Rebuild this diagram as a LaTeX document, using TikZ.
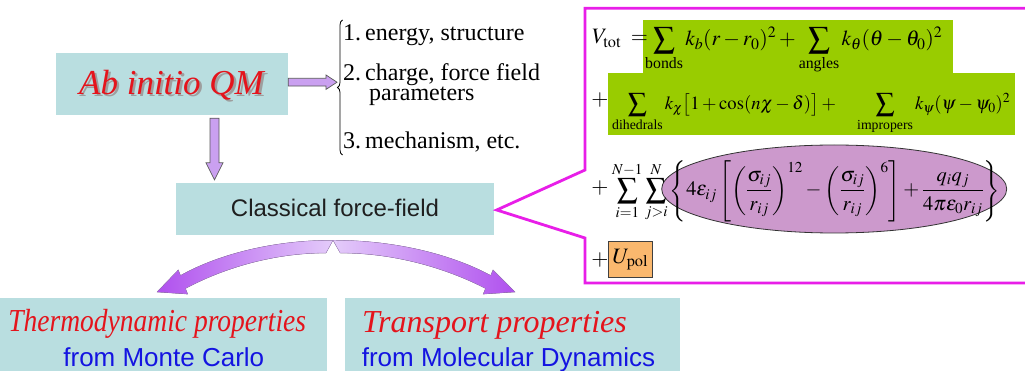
\documentclass[tikz,border=0pt]{standalone}
\usepackage{amsmath}
\usepackage{mathptmx}
\usepackage[no-math]{fontspec}
\setmainfont{Liberation Serif}
\newfontfamily\arialf{Liberation Sans}
\usetikzlibrary{calc,decorations.pathreplacing,shapes.geometric}
\definecolor{tealc}{RGB}{185,222,224}
\definecolor{redc}{RGB}{228,20,28}
\definecolor{bluec}{RGB}{20,20,225}
\definecolor{lavc}{RGB}{202,160,240}
\definecolor{lavdark}{RGB}{176,80,238}
\definecolor{lavlight}{RGB}{228,204,250}
\definecolor{magc}{RGB}{232,30,232}
\definecolor{greenc}{RGB}{153,204,0}
\definecolor{purplec}{RGB}{204,153,204}
\definecolor{orangec}{RGB}{250,184,110}
\newcommand{\mfs}{\fontsize{22}{26}\selectfont}
\begin{document}
\begin{tikzpicture}[x=1pt,y=-1pt,
  tealbox/.style={fill=tealc, draw=none, inner sep=0pt},
  lavarrow/.style={fill=lavc, draw=black!65, line width=0.7pt},
  listtext/.style={anchor=base west, inner sep=0pt, font=\fontsize{24}{27}\selectfont},
  bigred/.style={anchor=base, inner sep=0pt, text=redc, font=\fontsize{32}{36}\selectfont\itshape},
  bluesub/.style={anchor=base, inner sep=0pt, text=bluec, font=\arialf\fontsize{26}{30}\selectfont},
  greenbox/.style={fill=greenc, draw=none, inner sep=0pt},
  mathnode/.style={anchor=base west, inner sep=0pt},
  plusnode/.style={inner sep=0pt, font=\mfs}
]
\useasboundingbox (0,0) rectangle (1025,371);
\clip (0,0) rectangle (1025,371);
\fill[white] (0,0) rectangle (1025,371);

% --- Ab initio QM ---
\node[tealbox, minimum width=232.5pt, minimum height=61.7pt] (ab) at (171.75,84.15) {};
\node[anchor=base, inner sep=0pt, text=black!38, font=\fontsize{35}{40}\selectfont\itshape] (abshadow) at (173.8,96.6) {Ab initio QM};
\node[anchor=base, inner sep=0pt, text=redc, font=\fontsize{35}{40}\selectfont\itshape] (abtext) at (171.5,94.3) {Ab initio QM};

% --- list with brace ---
\coordinate (brtop) at (342.5,20);
\coordinate (brbot) at (342.5,155);
\draw[decorate, decoration={brace, amplitude=5pt}, line width=0.8pt] (brbot) -- (brtop);
\coordinate (brtip) at (337,82.2);
\node[listtext] (l1) at (343,40.5) {1.\,energy, structure};
\node[listtext] (l2) at (343,80.8) {2.\,charge, force field};
\node[listtext] (l2b) at (369,100.5) {parameters};
\node[listtext] (l3) at (343,148.5) {3.\,mechanism, etc.};

% right block arrow
\coordinate (rs) at ($(ab.east)+(0,-1.95)$);
\draw[lavarrow] ($(rs)+(0,-3.9)$) -- ($(brtip)+(-11,-3.9)$) -- ($(brtip)+(-11,-7.2)$) -- (brtip)
  -- ($(brtip)+(-11,7.2)$) -- ($(brtip)+(-11,3.9)$) -- ($(rs)+(0,3.9)$) -- cycle;

% --- Classical force-field ---
\node[tealbox, minimum width=318.4pt, minimum height=51.7pt] (cff) at (334.8,209.2) {};
\node[anchor=base, inner sep=0pt, text=black!88, font=\arialf\fontsize{24}{28}\selectfont] (cfftext) at (335,217) {Classical force-field};

% down block arrow
\coordinate (ds) at ($(ab.south)+(42.75,3)$);
\coordinate (dt) at ($(cff.north)+(-120.3,-3.3)$);
\draw[lavarrow] ($(ds)+(-4.5,0)$) -- ($(dt)+(-4.5,-17)$) -- ($(dt)+(-8.5,-17)$) -- (dt)
  -- ($(dt)+(8.5,-17)$) -- ($(dt)+(4.5,-17)$) -- ($(ds)+(4.5,0)$) -- cycle;

% --- bottom boxes ---
\node[tealbox, minimum width=327pt, minimum height=80pt, anchor=north west] (thermo) at (0,298) {};
\node[tealbox, minimum width=335pt, minimum height=80pt, anchor=north west] (trans) at (345,298) {};
\node[bigred] (thermot) at (157.2,331.7) {\scalebox{0.86}[1]{Thermodynamic properties}};
\node[bluesub] (thermob) at (163.8,366.5) {from Monte Carlo};
\node[bigred] (transt) at (494.5,332) {Transport properties};
\node[bluesub] (transb) at (508.5,366.5) {from Molecular Dynamics};

% curved arrows
\coordinate (apex) at ($(cff.south)+(-1.8,5)$);
\fill[left color=lavdark, right color=lavlight, draw=lavc!80!black, line width=0.3pt]
  (apex) .. controls (270,240) and (215,256) .. (180.5,275.5)
  -- (178.3,269.9) -- (157,292) -- (187.7,294.1) -- (185.5,288.5)
  .. controls (220,270) and (270,253) .. (326,253) -- cycle;
\fill[left color=lavlight, right color=lavdark, draw=lavc!80!black, line width=0.3pt]
  (apex) .. controls (398.1,240) and (455,256) .. (490.7,275.5)
  -- (493,269.9) -- (515,292) -- (483.2,294.1) -- (485.5,288.5)
  .. controls (449.8,270) and (398.1,253) .. (340.2,253) -- cycle;

% --- formula panel ---
\node[greenbox, minimum width=309.4pt, minimum height=52.7pt] (g1) at (798,46.35) {};
\node[greenbox, minimum width=407pt, minimum height=62.3pt] (g2) at (811.5,103.85) {};
\node[ellipse, fill=purplec, draw=black!80, line width=0.8pt, minimum width=345pt, minimum height=88pt, inner sep=0pt] (ell) at (834.2,189) {};
\node[fill=orangec, draw=black!75, line width=0.7pt, minimum width=44.7pt, minimum height=35.6pt, inner sep=0pt, font=\mfs] (upol) at (630.35,259.5) {$U_{\mathrm{pol}}$};

\node[mathnode, font=\mfs] (vtot) at (592,44) {$V_{\mathrm{tot}}\;=$};
\node[mathnode] (r1) at (645,46) {\resizebox{297pt}{!}{\mfs$\displaystyle\sum_{\text{bonds}}k_b(r-r_0)^2+\sum_{\text{angles}}k_\theta(\theta-\theta_0)^2$}};
\node[plusnode] (p2) at (600,100) {$+$};
\node[mathnode] (r2) at (612,110) {\resizebox{398pt}{!}{\mfs$\displaystyle\sum_{\text{dihedrals}}k_\chi\bigl[1+\cos(n\chi-\delta)\bigr]+\quad\sum_{\text{impropers}}k_\psi(\psi-\psi_0)^2$}};
\node[plusnode] (p3) at (600,188) {$+$};
\node[mathnode] (r3) at (612,196) {\resizebox{388pt}{!}{\mfs$\displaystyle\sum_{i=1}^{N-1}\sum_{j>i}^{N}\left\{4\varepsilon_{ij}\left[\left(\frac{\sigma_{ij}}{r_{ij}}\right)^{12}-\left(\frac{\sigma_{ij}}{r_{ij}}\right)^{6}\right]+\frac{q_iq_j}{4\pi\varepsilon_0r_{ij}}\right\}$}};
\node[plusnode] (p4) at (600,260) {$+$};

% magenta callout
\coordinate (call) at ($(cff.east)+(2.5,0.8)$);
\draw[magc, line width=2.8pt, line join=miter]
  (1035,8.3) -- (585,8.3) -- (585,170) -- (call) -- (585,238) -- (585,283) -- (1035,283);
\end{tikzpicture}
\end{document}
